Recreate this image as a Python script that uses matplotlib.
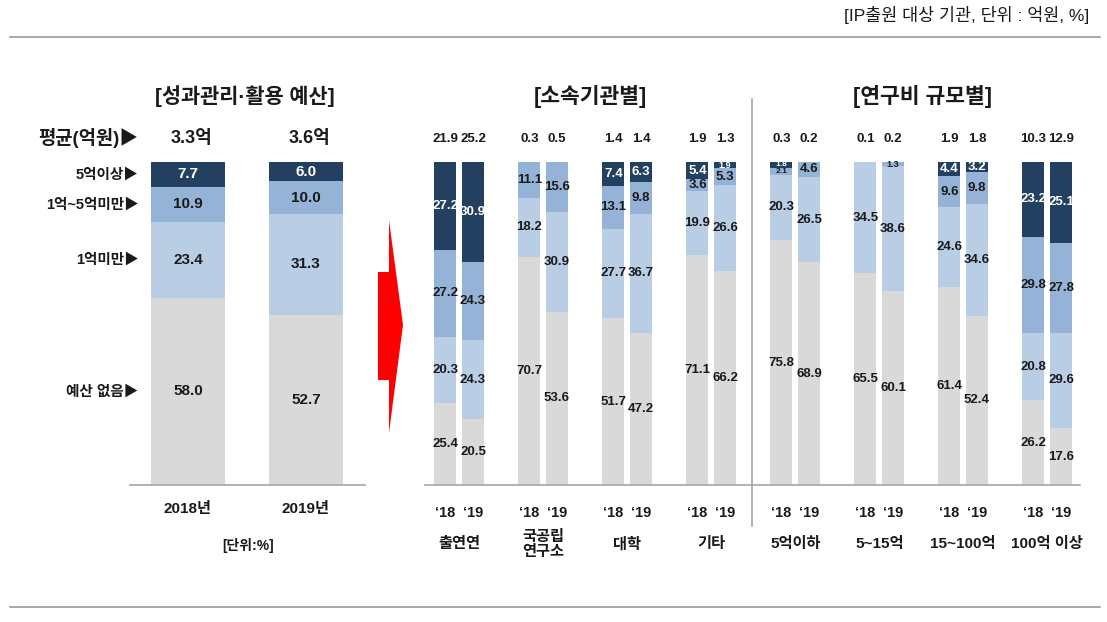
import matplotlib
matplotlib.use('Agg')
import matplotlib.pyplot as plt
from matplotlib.patches import Polygon
from matplotlib.lines import Line2D

plt.rcParams['font.family'] = ['Liberation Sans', 'Noto Sans CJK KR', 'DejaVu Sans']

# ---- data: left panel (성과관리·활용 예산) ----
left_years = ['2018년', '2019년']
left_avg = ['3.3억', '3.6억']
left_none = [58.0, 52.7]
left_lt1 = [23.4, 31.3]
left_1to5 = [10.9, 10.0]
left_ge5 = [7.7, 6.0]
left_rows = ['예산 없음▶', '1억미만▶', '1억~5억미만▶', '5억이상▶']

# ---- data: right panels (소속기관별 / 연구비 규모별) ----
groups = ['출연연', '국공립\n연구소', '대학', '기타', '5억이하', '5~15억', '15~100억', '100억 이상']
year_ticks = ['‘18', '‘19']
avg_18 = [21.9, 0.3, 1.4, 1.9, 0.3, 0.1, 1.9, 10.3]
avg_19 = [25.2, 0.5, 1.4, 1.3, 0.2, 0.2, 1.8, 12.9]
none_18 = [25.4, 70.7, 51.7, 71.1, 75.8, 65.5, 61.4, 26.2]
none_19 = [20.5, 53.6, 47.2, 66.2, 68.9, 60.1, 52.4, 17.6]
lt1_18 = [20.3, 18.2, 27.7, 19.9, 20.3, 34.5, 24.6, 20.8]
lt1_19 = [24.3, 30.9, 36.7, 26.6, 26.5, 38.6, 34.6, 29.6]
mid_18 = [27.2, 11.1, 13.1, 3.6, 2.1, 0.0, 9.6, 29.8]
mid_19 = [24.3, 15.6, 9.8, 5.3, 4.6, 1.3, 9.8, 27.8]
ge5_18 = [27.2, 0.0, 7.4, 5.4, 1.8, 0.0, 4.4, 23.2]
ge5_19 = [30.9, 0.0, 6.3, 1.9, 0.0, 0.0, 3.2, 25.1]

colors = ['#D9D9D9', '#B9CDE5', '#95B3D7', '#244061']
txt_colors = ['#1A1A1A', '#1A1A1A', '#1A1A1A', 'white']
line_col = '#A6A6A6'
dark = '#1A1A1A'

W, H = 1107, 622
fig = plt.figure(figsize=(W / 100, H / 100), dpi=100)


def px_axes(l, t, r, b):
    return fig.add_axes([l / W, 1 - b / H, (r - l) / W, (b - t) / H])


def clean(ax):
    for s in ['top', 'left', 'right']:
        ax.spines[s].set_visible(False)
    ax.spines['bottom'].set_color(line_col)
    ax.spines['bottom'].set_linewidth(1.2)
    ax.set_xticks([])
    ax.set_yticks([])
    ax.set_ylim(0, 100)
    ax.patch.set_alpha(0)


def stack(ax, xs, series, width, fs, small_fs=None):
    bottoms = [0.0] * len(xs)
    for k, vals in enumerate(series):
        ax.bar(xs, vals, width, bottom=bottoms, color=colors[k], linewidth=0)
        for x, b, v in zip(xs, bottoms, vals):
            if v <= 0:
                continue
            size = small_fs if (small_fs and v < 3) else fs
            ax.text(x, b + v / 2, f'{v:.1f}', ha='center', va='center',
                    fontsize=size, fontweight='bold', color=txt_colors[k])
        bottoms = [b + v for b, v in zip(bottoms, vals)]


# ---- left panel ----
axL = px_axes(130, 162, 365, 485)
clean(axL)
axL.set_xlim(-0.4915, 1.5)
xl = [0, 1]
stack(axL, xl, [left_none, left_lt1, left_1to5, left_ge5], 0.627, 11)

axL.text(0.48, 120.3, '[성과관리·활용 예산]', ha='center', va='center',
         fontsize=15, fontweight='bold', color=dark, clip_on=False)
axL.text(-0.42, 107.4, '평균(억원)▶', ha='right', va='center',
         fontsize=13.5, fontweight='bold', color=dark, clip_on=False)
for x, a in zip(xl, left_avg):
    axL.text(x + 0.03, 107.4, a, ha='center', va='center', fontsize=13,
             fontweight='bold', color=dark, clip_on=False)
    axL.text(x, -7.3, left_years[x], ha='center', va='center', fontsize=11,
             fontweight='bold', color=dark, clip_on=False)
axL.text(0.51, -18.6, '[단위:%]', ha='center', va='center', fontsize=10,
         fontweight='bold', color=dark, clip_on=False)

# row labels aligned with the 2018 segments
b = 0.0
for lab, vals in zip(left_rows, [left_none, left_lt1, left_1to5, left_ge5]):
    axL.text(-0.42, b + vals[0] / 2, lab, ha='right', va='center', fontsize=10.5,
             fontweight='bold', color=dark, clip_on=False)
    b += vals[0]

# ---- right panel ----
axR = px_axes(425, 162, 1080, 485)
clean(axR)
axR.set_xlim(-0.408, 7.39)
off, bw = 0.164, 0.262
gx = list(range(len(groups)))
x18 = [g - off for g in gx]
x19 = [g + off for g in gx]
stack(axR, x18, [none_18, lt1_18, mid_18, ge5_18], bw, 9.5, 6)
stack(axR, x19, [none_19, lt1_19, mid_19, ge5_19], bw, 9.5, 6.5)

for g in gx:
    axR.text(x18[g], 107.1, f'{avg_18[g]:.1f}', ha='center', va='center',
             fontsize=9.5, fontweight='bold', color=dark, clip_on=False)
    axR.text(x19[g], 107.1, f'{avg_19[g]:.1f}', ha='center', va='center',
             fontsize=9.5, fontweight='bold', color=dark, clip_on=False)
    axR.text(x18[g], -8.7, year_ticks[0], ha='center', va='center',
             fontsize=10.5, fontweight='bold', color=dark, clip_on=False)
    axR.text(x19[g], -8.7, year_ticks[1], ha='center', va='center',
             fontsize=10.5, fontweight='bold', color=dark, clip_on=False)
    axR.text(g, -18.4, groups[g], ha='center', va='center', fontsize=11,
             fontweight='bold', color=dark, linespacing=1.15, clip_on=False)

axR.text(1.56, 120.3, '[소속기관별]', ha='center', va='center', fontsize=15.5,
         fontweight='bold', color=dark, clip_on=False)
axR.text(5.51, 120.3, '[연구비 규모별]', ha='center', va='center', fontsize=15.5,
         fontweight='bold', color=dark, clip_on=False)
axR.plot([3.485, 3.485], [-12.8, 119.5], color=line_col, lw=1.2, clip_on=False)

# ---- decorations ----
arrow_px = [(378, 272), (389, 272), (389, 220), (403, 325), (389, 433), (389, 380), (378, 380)]
fig.add_artist(Polygon([(x / W, 1 - y / H) for x, y in arrow_px], closed=True,
                       transform=fig.transFigure, color='#FF0000', lw=0))
fig.add_artist(Line2D([10 / W, 1100 / W], [1 - 37 / H] * 2, color='#9A9A9A', lw=1.2))
fig.add_artist(Line2D([10 / W, 1100 / W], [1 - 607 / H] * 2, color='#9A9A9A', lw=1.2))
fig.text(1089 / W, 1 - 15 / H, '[IP출원 대상 기관, 단위 : 억원, %]', ha='right', va='center',
         fontsize=12.5, color=dark)

fig.savefig('out.png', dpi=100)
